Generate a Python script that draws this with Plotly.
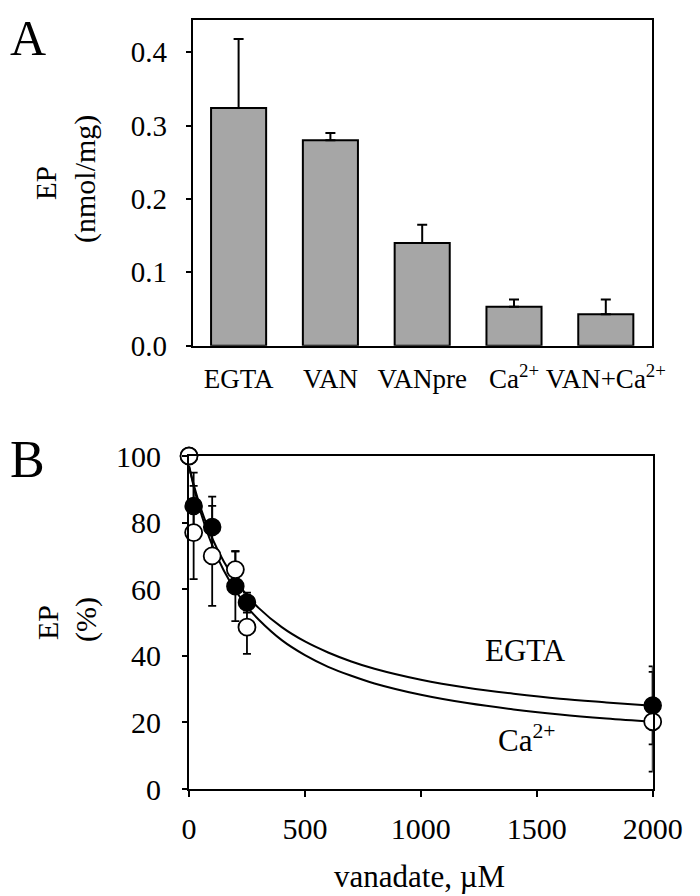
import plotly.graph_objects as go

# ---------- Panel A data ----------
categories = ["EGTA", "VAN", "VANpre", "Ca<sup>2+</sup>", "VAN+Ca<sup>2+</sup>"]
ep_values = [0.324, 0.280, 0.140, 0.053, 0.043]
ep_err = [0.094, 0.010, 0.025, 0.010, 0.020]
a_ticks = [0.0, 0.1, 0.2, 0.3, 0.4]
a_ticktext = ["0.0", "0.1", "0.2", "0.3", "0.4"]

# ---------- Panel B data ----------
egta_x = [0, 20, 100, 200, 250, 2000]
egta_y = [100, 85, 78.7, 60.9, 56, 25.1]
egta_err = [0, 10, 9.1, 10.5, 3, 11.7]

ca_x = [0, 20, 100, 200, 250, 2000]
ca_y = [100, 77, 70, 65.9, 48.6, 20.2]
ca_err = [0, 14, 15, 5.5, 8, 15]

fit_x = [0, 25, 50, 100, 150, 200, 250, 300, 400, 500, 600, 700, 800,
         1000, 1200, 1400, 1600, 1800, 2000]
fit_egta = [97, 90.2, 84.5, 75.3, 68.3, 62.7, 58.2, 54.4, 48.6, 44.3, 41.0,
            38.3, 36.1, 32.8, 30.4, 28.6, 27.1, 26.0, 25.0]
fit_ca = [97, 89.5, 83.2, 73.2, 65.6, 59.7, 54.8, 50.9, 44.7, 40.2, 36.7,
          34.0, 31.7, 28.3, 25.8, 23.9, 22.4, 21.2, 20.2]
b_xticks = [0, 500, 1000, 1500, 2000]
b_yticks = [0, 20, 40, 60, 80, 100]

W, H = 700, 896
FONT = "Liberation Serif"
OFF = 8  # page body margin offset


def px(x):
    return (x - OFF) / W


def py(y):
    return 1 - (y - OFF) / H


fig = go.Figure()

# Panel A bars
fig.add_trace(go.Bar(
    x=list(range(len(categories))), y=ep_values,
    marker=dict(color="#a6a6a6", line=dict(color="black", width=2)),
    width=0.6,
    error_y=dict(type="data", symmetric=False, array=ep_err,
                 arrayminus=[0] * len(ep_err), color="black",
                 thickness=2, width=5),
    xaxis="x", yaxis="y", showlegend=False,
))

# Panel B fitted curves
fig.add_trace(go.Scatter(x=fit_x, y=fit_egta, mode="lines",
                         line=dict(color="black", width=2, shape="spline"),
                         xaxis="x2", yaxis="y2", showlegend=False))
fig.add_trace(go.Scatter(x=fit_x, y=fit_ca, mode="lines",
                         line=dict(color="black", width=2, shape="spline"),
                         xaxis="x2", yaxis="y2", showlegend=False))

# Panel B points (filled = EGTA, open = Ca2+)
fig.add_trace(go.Scatter(
    x=egta_x, y=egta_y, mode="markers",
    marker=dict(symbol="circle", size=17, color="black",
                line=dict(color="black", width=1.5)),
    error_y=dict(type="data", array=egta_err, color="black",
                 thickness=1.8, width=4),
    cliponaxis=False, xaxis="x2", yaxis="y2", showlegend=False))
fig.add_trace(go.Scatter(
    x=ca_x, y=ca_y, mode="markers",
    marker=dict(symbol="circle", size=17, color="white",
                line=dict(color="black", width=1.8)),
    error_y=dict(type="data", array=ca_err, color="black",
                 thickness=1.8, width=4),
    cliponaxis=False, xaxis="x2", yaxis="y2", showlegend=False))

axis_common = dict(showline=True, linecolor="black", linewidth=2,
                   mirror=True, showgrid=False, zeroline=False,
                   tickcolor="black", tickwidth=2, automargin=False)

fig.update_layout(
    width=W, height=H, autosize=False,
    margin=dict(l=0, r=0, t=0, b=0, pad=0, autoexpand=False),
    paper_bgcolor="white", plot_bgcolor="white",
    font=dict(family=FONT, color="black", size=27),
    xaxis=dict(domain=[px(192.7), px(651.7)], range=[-0.5, 4.5],
               tickmode="array", tickvals=list(range(len(categories))),
               ticktext=categories, ticks="", tickangle=0,
               ticklabelstandoff=8,
               tickfont=dict(family=FONT, size=27), anchor="y",
               **axis_common),
    yaxis=dict(domain=[py(345.7), py(20)], range=[0, 0.444],
               tickmode="array", tickvals=a_ticks, ticktext=a_ticktext,
               ticks="outside", ticklen=5, ticklabelstandoff=13,
               tickfont=dict(family=FONT, size=29), anchor="x",
               **axis_common),
    xaxis2=dict(domain=[px(189), px(652.7)], range=[0, 2000],
                tickmode="array", tickvals=b_xticks, tickangle=0,
                ticks="outside", ticklen=6, ticklabelstandoff=6,
                tickfont=dict(family=FONT, size=30), anchor="y2",
                **axis_common),
    yaxis2=dict(domain=[py(789), py(456)], range=[0, 100],
                tickmode="array", tickvals=b_yticks,
                ticks="outside", ticklen=5, ticklabelstandoff=15,
                tickfont=dict(family=FONT, size=30), anchor="x2",
                **axis_common),
)

ann_font = lambda s: dict(family=FONT, size=s, color="black")
annotations = [
    dict(text="A", x=0, y=1, xanchor="left", yanchor="top",
         font=ann_font(50)),
    dict(text="B", x=0, y=py(459), xanchor="left", yanchor="middle",
         font=ann_font(52)),
    dict(text="EP", x=px(46), y=py(183), textangle=-90, font=ann_font(29)),
    dict(text="(nmol/mg)", x=px(85), y=py(179), textangle=-90,
         font=ann_font(30)),
    dict(text="EP", x=px(47), y=py(623), textangle=-90, font=ann_font(30)),
    dict(text="(%)", x=px(86), y=py(620), textangle=-90, font=ann_font(30)),
    dict(text="vanadate, \u00b5M", x=px(419), y=py(876), font=ann_font(31)),
    dict(text="EGTA", x=px(525), y=py(650), font=ann_font(31)),
    dict(text="Ca<sup>2+</sup>", x=px(527), y=py(738), font=ann_font(31)),
]
for a in annotations:
    a.setdefault("xanchor", "center")
    a.setdefault("yanchor", "middle")
    a.update(xref="paper", yref="paper", showarrow=False)
fig.update_layout(annotations=annotations)

fig.write_html("out.html")
